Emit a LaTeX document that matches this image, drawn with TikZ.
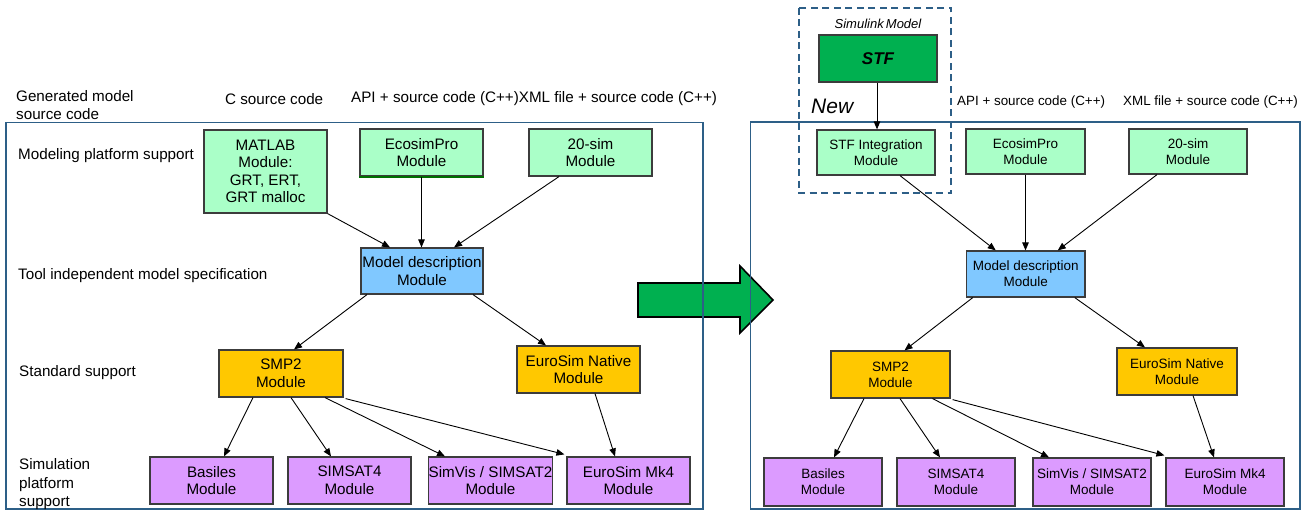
\documentclass[tikz,border=0pt]{standalone}
\usepackage{fontspec}
\setmainfont{Liberation Sans}
\usetikzlibrary{arrows.meta}
\definecolor{lgreen}{RGB}{170,255,200}
\definecolor{lblue}{RGB}{128,200,255}
\definecolor{gold}{RGB}{255,200,0}
\definecolor{lpurple}{RGB}{220,155,255}
\definecolor{dgreen}{RGB}{0,176,80}
\definecolor{framec}{RGB}{45,95,135}
\definecolor{boxline}{RGB}{60,60,60}
\begin{document}
\begin{tikzpicture}[x=1pt,y=-1pt,
  box/.style={draw=boxline, line width=1.2pt, inner sep=0pt, align=center,
    font=\fontsize{15.2}{17.5}\selectfont},
  boxR/.style={box, font=\fontsize{13.5}{15.7}\selectfont},
  conn/.style={-{Triangle[length=8pt,width=6.5pt]}, line width=0.9pt},
  lab/.style={anchor=west, inner sep=0pt, align=left, font=\fontsize{15.2}{18}\selectfont},
  labR/.style={anchor=west, inner sep=0pt, font=\fontsize{13.4}{16}\selectfont},
  frame/.style={draw=framec, line width=1.1pt}
]
\path[fill=white] (0,0) rectangle (1311,511);
\useasboundingbox (0,0) rectangle (1311,511);

% big green arrow
\draw[fill=dgreen, draw=black, line width=1.6pt, line join=miter]
  (638,283) -- (740,283) -- (740,266) -- (773,300) -- (740,333) -- (740,317) -- (638,317) -- cycle;

% frames
\draw[frame] (6,122.5) rectangle (703,509);
\draw[frame] (750.5,122) rectangle (1300,509);

% dashed box
\draw[draw=framec, line width=1.6pt, dash pattern=on 7pt off 4.5pt] (799,8) rectangle (951,193);

% ---------- left labels ----------
\node[lab] (lgen) at (16,105.5) {Generated model\\source code};
\node[lab] (lc) at (225,99) {C source code};
\node[lab] (lapi) at (351,99) {API + source code (C++)XML file + source code (C++)};
\node[lab] (lmod) at (18,156) {Modeling platform support};
\node[lab] (ltool) at (18,276) {Tool independent model specification};
\node[lab] (lstd) at (19,373) {Standard support};
\node[lab, font=\fontsize{15.2}{18.5}\selectfont] (lsim) at (19,484.5) {Simulation\\platform\\support};

% ---------- left nodes ----------
\node[box, fill=lgreen, minimum width=123pt, minimum height=83pt] (mat) at (265.5,171.5) {MATLAB\\Module:\\GRT, ERT,\\GRT malloc};
\node[box, fill=lgreen, minimum width=123pt, minimum height=47pt] (ecoL) at (421.5,152.5) {EcosimPro\\Module};
\draw[draw={rgb,255:red,0;green,110;blue,0}, line width=1.8pt] (ecoL.south west) -- (ecoL.south east);
\node[box, fill=lgreen, minimum width=123pt, minimum height=47pt] (simL) at (590.5,152.5) {20-sim\\Module};
\node[box, fill=lblue, minimum width=122pt, minimum height=46pt] (mdL) at (422,271) {Model description\\Module};
\node[box, fill=gold, minimum width=124pt, minimum height=47pt] (smpL) at (281,373.5) {SMP2\\Module};
\node[box, fill=gold, minimum width=123pt, minimum height=47pt] (enL) at (578.5,369.5) {EuroSim Native\\Module};
\node[box, fill=lpurple, minimum width=123pt, minimum height=47pt] (basL) at (211.5,480.5) {Basiles\\Module};
\node[box, fill=lpurple, minimum width=123pt, minimum height=47pt] (satL) at (349.5,480.5) {SIMSAT4\\Module};
\node[box, fill=lpurple, minimum width=123pt, minimum height=47pt] (visL) at (490.5,480.5) {SimVis / SIMSAT2\\Module};
\node[box, fill=lpurple, minimum width=123pt, minimum height=47pt] (mk4L) at (628.5,480.5) {EuroSim Mk4\\Module};

% left connectors
\draw[conn] (mat.south east) -- ([xshift=-32pt]mdL.north);
\draw[conn] (ecoL.south) -- (ecoL.south |- mdL.north);
\draw[conn] ([xshift=-31.5pt]simL.south) -- ([xshift=32pt]mdL.north);
\draw[conn] ([xshift=-55pt]mdL.south) -- ([xshift=13pt]smpL.north);
\draw[conn] ([xshift=51pt]mdL.south) -- ([xshift=-32.5pt]enL.north);
\draw[conn] ([xshift=-28pt]smpL.south) -- ([xshift=12.5pt]basL.north);
\draw[conn] ([xshift=10pt]smpL.south) -- ([xshift=-18.5pt]satL.north);
\draw[conn] ([xshift=44pt]smpL.south) -- ([xshift=-45.5pt]visL.north);
\draw[conn] ([xshift=2pt,yshift=-1pt]smpL.south east) -- ([xshift=-2pt,yshift=2pt]mk4L.north west);
\draw[conn] ([xshift=16.5pt]enL.south) -- ([xshift=-13.5pt]mk4L.north);

% ---------- right labels ----------
\node[inner sep=0pt, font=\fontsize{13}{15}\selectfont\itshape] (lsl) at (878,24) {Simulink\,Model};
\node[anchor=west, inner sep=0pt, font=\fontsize{21}{24}\selectfont\itshape] (lnew) at (811,106) {New};
\node[labR] (lapiR) at (957,102) {API + source code (C++)};
\node[labR] (lxmlR) at (1123,102) {XML file + source code (C++)};

% ---------- right nodes ----------
\node[box, fill=dgreen, minimum width=118pt, minimum height=47pt, font=\fontsize{17}{20}\selectfont\bfseries\itshape] (stf) at (878,58.5) {STF};
\node[boxR, fill=lgreen, minimum width=118pt, minimum height=45pt] (stfi) at (876,152.5) {STF Integration\\Module};
\node[boxR, fill=lgreen, minimum width=119pt, minimum height=45pt] (ecoR) at (1025.5,151.5) {EcosimPro\\Module};
\node[boxR, fill=lgreen, minimum width=118pt, minimum height=45pt] (simR) at (1188,151.5) {20-sim\\Module};
\node[boxR, fill=lblue, minimum width=118.5pt, minimum height=46pt] (mdR) at (1025.75,274) {Model description\\Module};
\node[boxR, fill=gold, minimum width=119pt, minimum height=47pt] (smpR) at (890.5,374.5) {SMP2\\Module};
\node[boxR, fill=gold, minimum width=120pt, minimum height=47pt] (enR) at (1177,371.5) {EuroSim Native\\Module};
\node[boxR, fill=lpurple, minimum width=118pt, minimum height=48pt] (basR) at (823,482) {Basiles\\Module};
\node[boxR, fill=lpurple, minimum width=118pt, minimum height=48pt] (satR) at (956,482) {SIMSAT4\\Module};
\node[boxR, fill=lpurple, minimum width=118pt, minimum height=48pt] (visR) at (1092,482) {SimVis / SIMSAT2\\Module};
\node[boxR, fill=lpurple, minimum width=118pt, minimum height=48pt] (mk4R) at (1225,482) {EuroSim Mk4\\Module};

% right connectors
\draw[conn] ([xshift=-1pt]stf.south) -- ([xshift=1pt]stfi.north);
\draw[conn] ([xshift=24pt]stfi.south) -- ([xshift=-30pt]mdR.north);
\draw[conn] (ecoR.south) -- (ecoR.south |- mdR.north);
\draw[conn] ([xshift=-31pt]simR.south) -- ([xshift=32pt]mdR.north);
\draw[conn] ([xshift=-53pt]mdR.south) -- ([xshift=14pt]smpR.north);
\draw[conn] ([xshift=49pt]mdR.south) -- ([xshift=-32pt]enR.north);
\draw[conn] ([xshift=-26.5pt]smpR.south) -- ([xshift=11pt]basR.north);
\draw[conn] ([xshift=9.5pt]smpR.south) -- ([xshift=-16pt]satR.north);
\draw[conn] ([xshift=42pt]smpR.south) -- ([xshift=-43pt]visR.north);
\draw[conn] ([xshift=2pt,yshift=-1pt]smpR.south east) -- ([xshift=-1pt,yshift=2pt]mk4R.north west);
\draw[conn] ([xshift=16pt]enR.south) -- ([xshift=-11pt]mk4R.north);
\end{tikzpicture}
\end{document}
